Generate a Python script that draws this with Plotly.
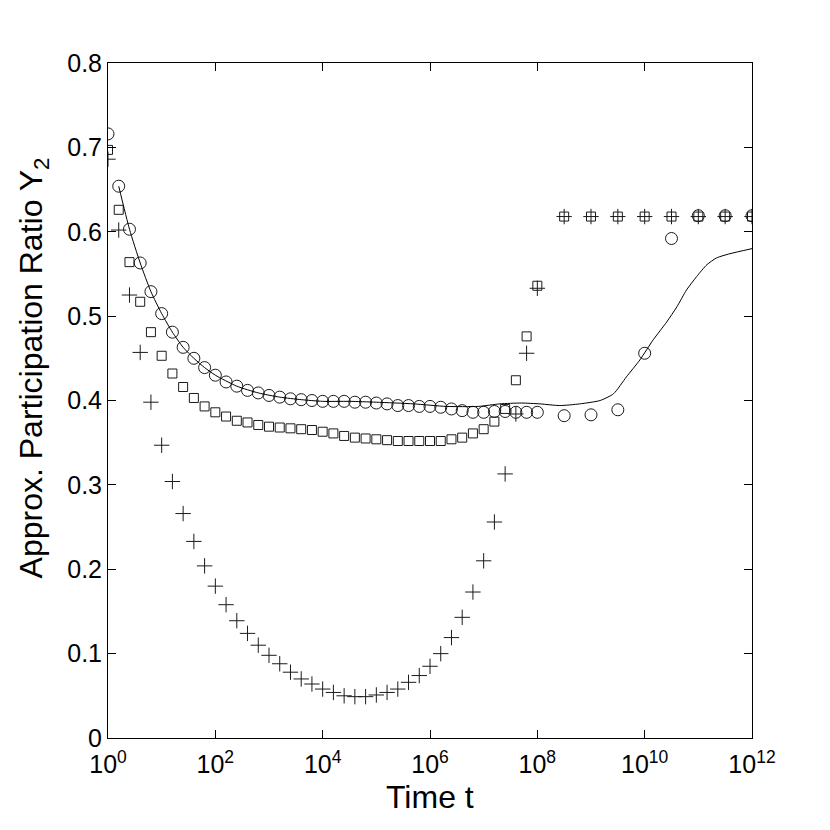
import plotly.graph_objects as go

# exponents of time t (t = 10**exp)
marker_exp = [0.0, 0.2, 0.4, 0.6, 0.8, 1.0, 1.2, 1.4, 1.6, 1.8,
              2.0, 2.2, 2.4, 2.6, 2.8, 3.0, 3.2, 3.4, 3.6, 3.8,
              4.0, 4.2, 4.4, 4.6, 4.8, 5.0, 5.2, 5.4, 5.6, 5.8,
              6.0, 6.2, 6.4, 6.6, 6.8, 7.0, 7.2, 7.4, 7.6, 7.8,
              8.0, 8.5, 9.0, 9.5, 10.0, 10.5, 11.0, 11.5, 12.0]

circle_y = [0.716, 0.654, 0.603, 0.563, 0.529, 0.503, 0.481, 0.463, 0.450, 0.439,
            0.430, 0.422, 0.417, 0.412, 0.409, 0.406, 0.404, 0.402, 0.401, 0.400,
            0.399, 0.399, 0.399, 0.398, 0.398, 0.397, 0.396, 0.394, 0.394, 0.393,
            0.393, 0.392, 0.390, 0.388, 0.386, 0.386, 0.387, 0.387, 0.386, 0.386,
            0.386, 0.382, 0.383, 0.389, 0.456, 0.592, 0.619, 0.619, 0.619]

square_y = [0.697, 0.626, 0.564, 0.517, 0.481, 0.453, 0.432, 0.416, 0.403, 0.393,
            0.386, 0.381, 0.376, 0.374, 0.371, 0.369, 0.368, 0.367, 0.366, 0.365,
            0.363, 0.361, 0.358, 0.356, 0.355, 0.354, 0.353, 0.352, 0.352, 0.352,
            0.352, 0.352, 0.354, 0.356, 0.361, 0.366, 0.375, 0.390, 0.424, 0.476,
            0.536, 0.618, 0.618, 0.618, 0.618, 0.618, 0.618, 0.618, 0.618]

plus_y = [0.686, 0.602, 0.525, 0.457, 0.398, 0.347, 0.304, 0.266, 0.233, 0.204,
          0.180, 0.158, 0.139, 0.124, 0.110, 0.098, 0.088, 0.078, 0.070, 0.064,
          0.058, 0.054, 0.050, 0.049, 0.049, 0.051, 0.054, 0.058, 0.066, 0.074,
          0.085, 0.100, 0.119, 0.143, 0.173, 0.210, 0.256, 0.313, 0.384, 0.456,
          0.533, 0.618, 0.618, 0.618, 0.618, 0.618, 0.618, 0.618, 0.618]

line_exp = [0.2, 0.4, 0.6, 0.8, 1.0, 1.2, 1.4, 1.6, 1.8, 2.0, 2.4, 2.8, 3.2, 3.6,
            4.0, 4.5, 5.0, 5.7, 6.3, 6.9, 7.3, 7.7, 8.05, 8.42, 8.79, 9.17, 9.42,
            9.66, 9.91, 10.16, 10.41, 10.6, 10.78, 10.97, 11.16, 11.34, 11.59, 12.0]
line_y = [0.654, 0.603, 0.563, 0.529, 0.503, 0.481, 0.463, 0.450, 0.439, 0.430,
          0.417, 0.409, 0.404, 0.401, 0.399, 0.399, 0.398, 0.396, 0.393, 0.393,
          0.396, 0.397, 0.396, 0.394, 0.396, 0.400, 0.408, 0.428, 0.448, 0.472,
          0.493, 0.511, 0.531, 0.547, 0.561, 0.569, 0.574, 0.580]

x_tick_exp = [0, 2, 4, 6, 8, 10, 12]
y_ticks = [0, 0.1, 0.2, 0.3, 0.4, 0.5, 0.6, 0.7, 0.8]
y_tick_text = ["0", "0.1", "0.2", "0.3", "0.4", "0.5", "0.6", "0.7", "0.8"]

marker_t = [10 ** e for e in marker_exp]
line_t = [10 ** e for e in line_exp]

FONT = "Liberation Sans, Arial, Helvetica, sans-serif"
MC = "#1a1a1a"

fig = go.Figure()
fig.add_trace(go.Scatter(x=marker_t, y=circle_y, mode="markers",
                         marker=dict(symbol="circle-open", size=12,
                                     color=MC, line=dict(width=1, color=MC))))
fig.add_trace(go.Scatter(x=marker_t, y=square_y, mode="markers",
                         marker=dict(symbol="square-open", size=9,
                                     color=MC, line=dict(width=1, color=MC))))
fig.add_trace(go.Scatter(x=marker_t, y=plus_y, mode="markers",
                         marker=dict(symbol="cross-thin-open", size=11,
                                     color=MC, line=dict(width=1, color=MC))))
fig.add_trace(go.Scatter(x=line_t, y=line_y, mode="lines",
                         line=dict(color="black", width=1, shape="spline", smoothing=0.6)))

fig.update_xaxes(type="log", range=[0, 12],
                 tickvals=[10 ** e for e in x_tick_exp],
                 ticktext=["10<sup>%d</sup>" % e for e in x_tick_exp],
                 ticks="inside", ticklen=8, tickwidth=1, tickcolor="black",
                 showline=True, linecolor="black", linewidth=1, mirror="ticks",
                 showgrid=False, zeroline=False, ticklabelstandoff=4,
                 tickfont=dict(family=FONT, size=25, color="black"))
fig.update_yaxes(range=[0, 0.8], tickvals=y_ticks, ticktext=y_tick_text,
                 ticks="inside", ticklen=8, tickwidth=1, tickcolor="black",
                 showline=True, linecolor="black", linewidth=1, mirror="ticks",
                 showgrid=False, zeroline=False,
                 tickfont=dict(family=FONT, size=25, color="black"))

fig.add_annotation(text="Time t", xref="paper", yref="paper",
                   x=0.5, y=-0.087, xanchor="center", yanchor="middle",
                   showarrow=False, font=dict(family=FONT, size=32, color="black"))
fig.add_annotation(text="Approx. Participation Ratio Y<sub>2</sub>", xref="paper", yref="paper",
                   x=-0.116, y=0.548, xanchor="center", yanchor="middle", textangle=-90,
                   showarrow=False, font=dict(family=FONT, size=32, color="black"))

# page body adds an 8px margin, so the figure is 822 px and offset by 8
fig.update_layout(width=822, height=822, showlegend=False,
                  paper_bgcolor="white", plot_bgcolor="white",
                  margin=dict(l=100, r=78, t=55, b=92))

fig.write_html("out.html")
